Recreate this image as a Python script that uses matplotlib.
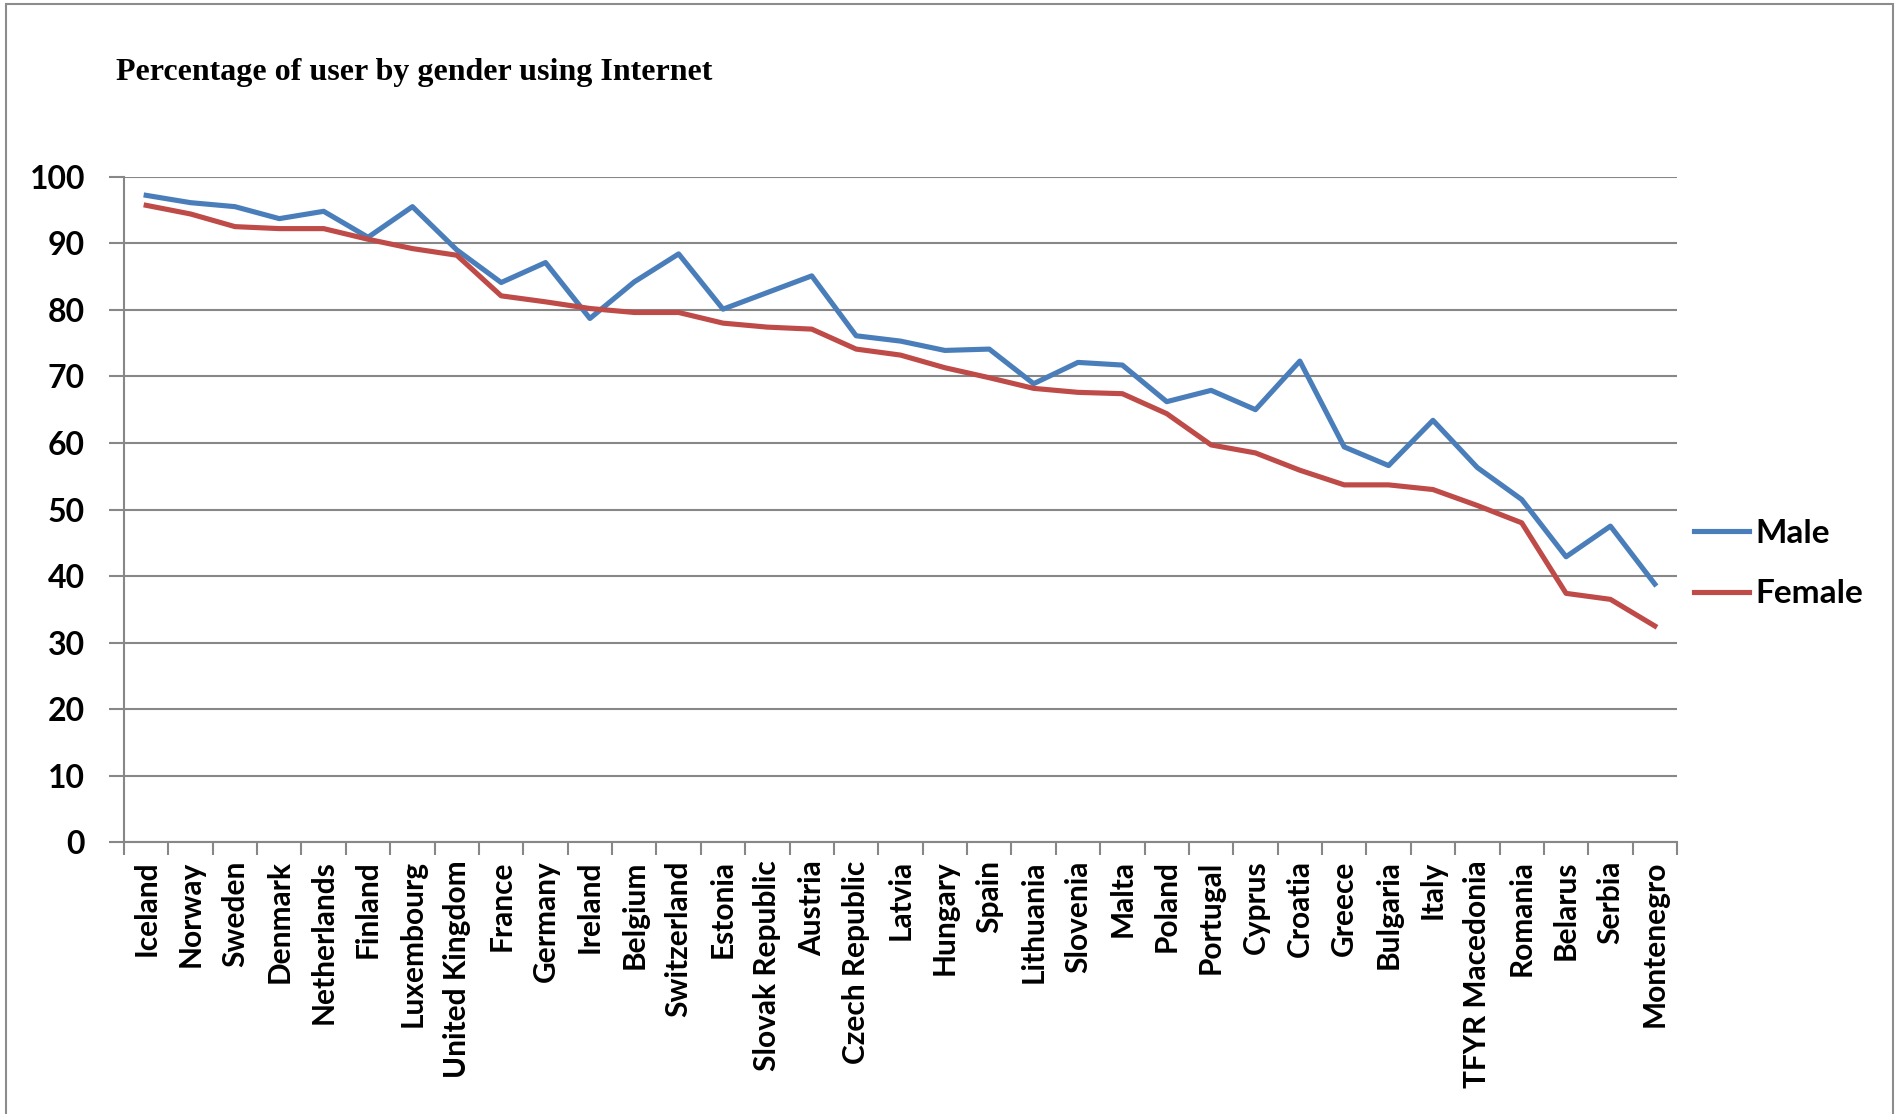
import matplotlib
matplotlib.use("Agg")
import matplotlib.pyplot as plt
from matplotlib.patches import Rectangle
from matplotlib.ticker import FixedLocator, NullFormatter

countries = ["Iceland", "Norway", "Sweden", "Denmark", "Netherlands", "Finland",
             "Luxembourg", "United Kingdom", "France", "Germany", "Ireland",
             "Belgium", "Switzerland", "Estonia", "Slovak Republic", "Austria",
             "Czech Republic", "Latvia", "Hungary", "Spain", "Lithuania",
             "Slovenia", "Malta", "Poland", "Portugal", "Cyprus", "Croatia",
             "Greece", "Bulgaria", "Italy", "TFYR Macedonia", "Romania",
             "Belarus", "Serbia", "Montenegro"]
male = [97.2, 96.1, 95.5, 93.7, 94.8, 90.9, 95.5, 89.0, 84.1, 87.1, 78.7,
        84.2, 88.4, 80.1, 82.6, 85.1, 76.1, 75.3, 73.9, 74.1, 68.9, 72.1,
        71.7, 66.2, 67.9, 65.0, 72.3, 59.4, 56.6, 63.4, 56.3, 51.5, 42.9,
        47.5, 38.8]
female = [95.7, 94.4, 92.5, 92.2, 92.2, 90.6, 89.2, 88.2, 82.1, 81.2, 80.2,
          79.6, 79.6, 78.0, 77.4, 77.1, 74.1, 73.2, 71.3, 69.8, 68.2, 67.6,
          67.4, 64.4, 59.7, 58.5, 55.9, 53.7, 53.7, 53.0, 50.6, 48.0, 37.4,
          36.5, 32.5]
yticks = [0, 10, 20, 30, 40, 50, 60, 70, 80, 90, 100]
title = "Percentage of user by gender using Internet"

W, H = 1903, 1114
fig = plt.figure(figsize=(W / 100, H / 100), dpi=100)
fig.patch.set_facecolor("white")

left, right, top, bottom = 124, 1677, 176.7, 842.3
ax = fig.add_axes([left / W, (H - bottom) / H, (right - left) / W, (bottom - top) / H])

grid_c = "#878787"
x = list(range(len(countries)))
ax.plot(x, male, color="#4A7EBB", lw=3.7, solid_joinstyle="round", label="Male", zorder=3)
ax.plot(x, female, color="#BE4B48", lw=3.7, solid_joinstyle="round", label="Female", zorder=3)

ax.set_ylim(0, 100)
ax.set_xlim(-0.5, len(countries) - 0.5)
ax.set_yticks(yticks)
ax.set_yticklabels([str(v) for v in yticks])
ax.yaxis.grid(True, color=grid_c, lw=1.5)
ax.set_axisbelow(True)

ax.set_xticks(x)
ax.set_xticklabels(countries, rotation=90, ha="center", va="top")
ax.xaxis.set_minor_locator(FixedLocator([i - 0.5 for i in range(len(countries) + 1)]))
ax.xaxis.set_minor_formatter(NullFormatter())
ax.tick_params(axis="x", which="major", length=0, pad=13)
ax.tick_params(axis="x", which="minor", length=9, width=1.5, color=grid_c, direction="out")
ax.tick_params(axis="y", length=11, width=1.5, color=grid_c, direction="out", pad=17)

for lab in ax.get_xticklabels():
    lab.set_fontfamily("Lato")
    lab.set_fontweight("bold")
    lab.set_fontsize(21.5)
for lab in ax.get_yticklabels():
    lab.set_fontfamily("Lato")
    lab.set_fontweight("bold")
    lab.set_fontsize(23)

for s in ["top", "right"]:
    ax.spines[s].set_visible(False)
for s in ["left", "bottom"]:
    ax.spines[s].set_color(grid_c)
    ax.spines[s].set_linewidth(1.5)

leg = ax.legend(loc="center left", bbox_to_anchor=(1694 / W, (H - 563.5) / H),
                bbox_transform=fig.transFigure, frameon=False, borderpad=0,
                borderaxespad=0, handlelength=1.65, handletextpad=0.18,
                labelspacing=0.95, prop={"family": "Lato", "weight": "bold", "size": 24})

fig.text(116.5 / W, 1 - 80 / H, title, fontfamily="Liberation Serif",
         fontweight="bold", fontsize=23, va="baseline", ha="left")

fig.add_artist(Rectangle((6 / W, -0.05), (1893 - 6) / W, 1 - 4 / H + 0.05,
                         transform=fig.transFigure, fill=False,
                         edgecolor="#8c8c8c", lw=1.5))

fig.savefig("out.png", dpi=100, facecolor="white")
